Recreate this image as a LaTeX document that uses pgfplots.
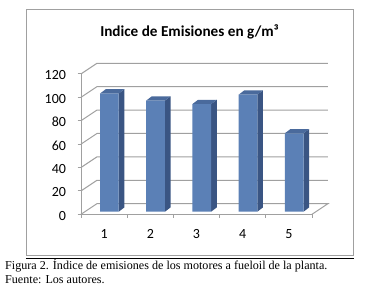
\documentclass[border=0pt]{standalone}
\usepackage{pgfplots}
\pgfplotsset{compat=1.18}
\usepackage{fontspec}
\setmainfont{Carlito}
\newfontfamily\capfont{Liberation Serif}
\definecolor{barfront}{HTML}{5B80B6}
\definecolor{barside}{HTML}{3A5583}
\definecolor{bartop}{HTML}{4A6A9C}
\definecolor{gridc}{HTML}{A0A0A0}
\begin{document}
\begin{tikzpicture}
\path[use as bounding box] (-81pt,-75.7pt) rectangle (290pt,214.3pt);
\fill[white] (-81pt,-75.7pt) rectangle (290pt,214.3pt);
\begin{axis}[
  at={(0pt,0pt)}, anchor=origin,
  scale only axis, width=231pt, height=140.4pt,
  xmin=0, xmax=5, ymin=0, ymax=120,
  clip=false,
  axis x line=bottom, axis y line=left,
  axis line style={-, draw=gridc, line width=1pt},
  tick style={draw=gridc, line width=0.9pt},
  tick align=outside,
  major tick length=3.5pt, minor tick length=3.5pt,
  xtick={0.5,1.5,2.5,3.5,4.5}, xticklabels={1,2,3,4,5},
  major x tick style={draw=none},
  minor xtick={0,1,2,3,4,5},
  ytick={0,20,40,60,80,100,120},
  /pgf/number format/assume math mode=true,
  tick label style={font=\fontsize{14}{14}\selectfont},
  xticklabel style={yshift=-8.5pt},
  yticklabel style={xshift=-8pt, yshift=-1.5pt},
]
% grid on floor and back wall
\addplot[draw=gridc, line width=1pt] coordinates {(0,0) (0.346,9.1) (5.346,9.1) (5,0)};
\addplot[draw=gridc, line width=1pt] coordinates {(0,20) (0.346,29.1) (5.346,29.1)};
\addplot[draw=gridc, line width=1pt] coordinates {(0,40) (0.346,49.1) (5.346,49.1)};
\addplot[draw=gridc, line width=1pt] coordinates {(0,60) (0.346,69.1) (5.346,69.1)};
\addplot[draw=gridc, line width=1pt] coordinates {(0,80) (0.346,89.1) (5.346,89.1)};
\addplot[draw=gridc, line width=1pt] coordinates {(0,100) (0.346,109.1) (5.346,109.1)};
\addplot[draw=gridc, line width=1pt] coordinates {(0,120) (0.346,129.1) (5.346,129.1)};
% side faces
\addplot[fill=barside, draw=none] coordinates {(0.816,2.2) (0.939,5.9) (0.939,106.9) (0.816,103.2)} -- cycle;
\addplot[fill=barside, draw=none] coordinates {(1.816,2.2) (1.939,5.9) (1.939,100.9) (1.816,97.2)} -- cycle;
\addplot[fill=barside, draw=none] coordinates {(2.816,2.2) (2.939,5.9) (2.939,97.9) (2.816,94.2)} -- cycle;
\addplot[fill=barside, draw=none] coordinates {(3.816,2.2) (3.939,5.9) (3.939,105.9) (3.816,102.2)} -- cycle;
\addplot[fill=barside, draw=none] coordinates {(4.816,2.2) (4.939,5.9) (4.939,72.9) (4.816,69.2)} -- cycle;
% top faces
\addplot[fill=bartop, draw=none] coordinates {(0.411,103.2) (0.534,106.9) (0.939,106.9) (0.816,103.2)} -- cycle;
\addplot[fill=bartop, draw=none] coordinates {(1.411,97.2) (1.534,100.9) (1.939,100.9) (1.816,97.2)} -- cycle;
\addplot[fill=bartop, draw=none] coordinates {(2.411,94.2) (2.534,97.9) (2.939,97.9) (2.816,94.2)} -- cycle;
\addplot[fill=bartop, draw=none] coordinates {(3.411,102.2) (3.534,105.9) (3.939,105.9) (3.816,102.2)} -- cycle;
\addplot[fill=bartop, draw=none] coordinates {(4.411,69.2) (4.534,72.9) (4.939,72.9) (4.816,69.2)} -- cycle;
% front faces
\addplot[ybar, bar width=18.7pt, fill=barfront, draw=none, shift={(5.25pt,2.6pt)}]
  coordinates {(0.5,101) (1.5,95) (2.5,92) (3.5,100) (4.5,67)};
\end{axis}
\draw[draw=gridc, line width=1pt] (-54.5pt,-40.7pt) rectangle (272pt,204.8pt);
\node[font=\fontsize{15.2}{15.2}\selectfont\bfseries, anchor=base] at (108.5pt,178.3pt) {Indice de Emisiones en g/m³};
\draw[black, line width=0.8pt] (-55pt,-43.7pt) -- (273pt,-43.7pt);
\node[font=\capfont\fontsize{12.1}{12.1}\selectfont, anchor=base west, inner sep=0pt] at (-76pt,-54.7pt) {Figura 2. Índice de emisiones de los motores a fueloil de la planta.};
\node[font=\capfont\fontsize{12.1}{12.1}\selectfont, anchor=base west, inner sep=0pt] at (-76pt,-68.7pt) {Fuente: Los autores.};
\end{tikzpicture}
\end{document}
